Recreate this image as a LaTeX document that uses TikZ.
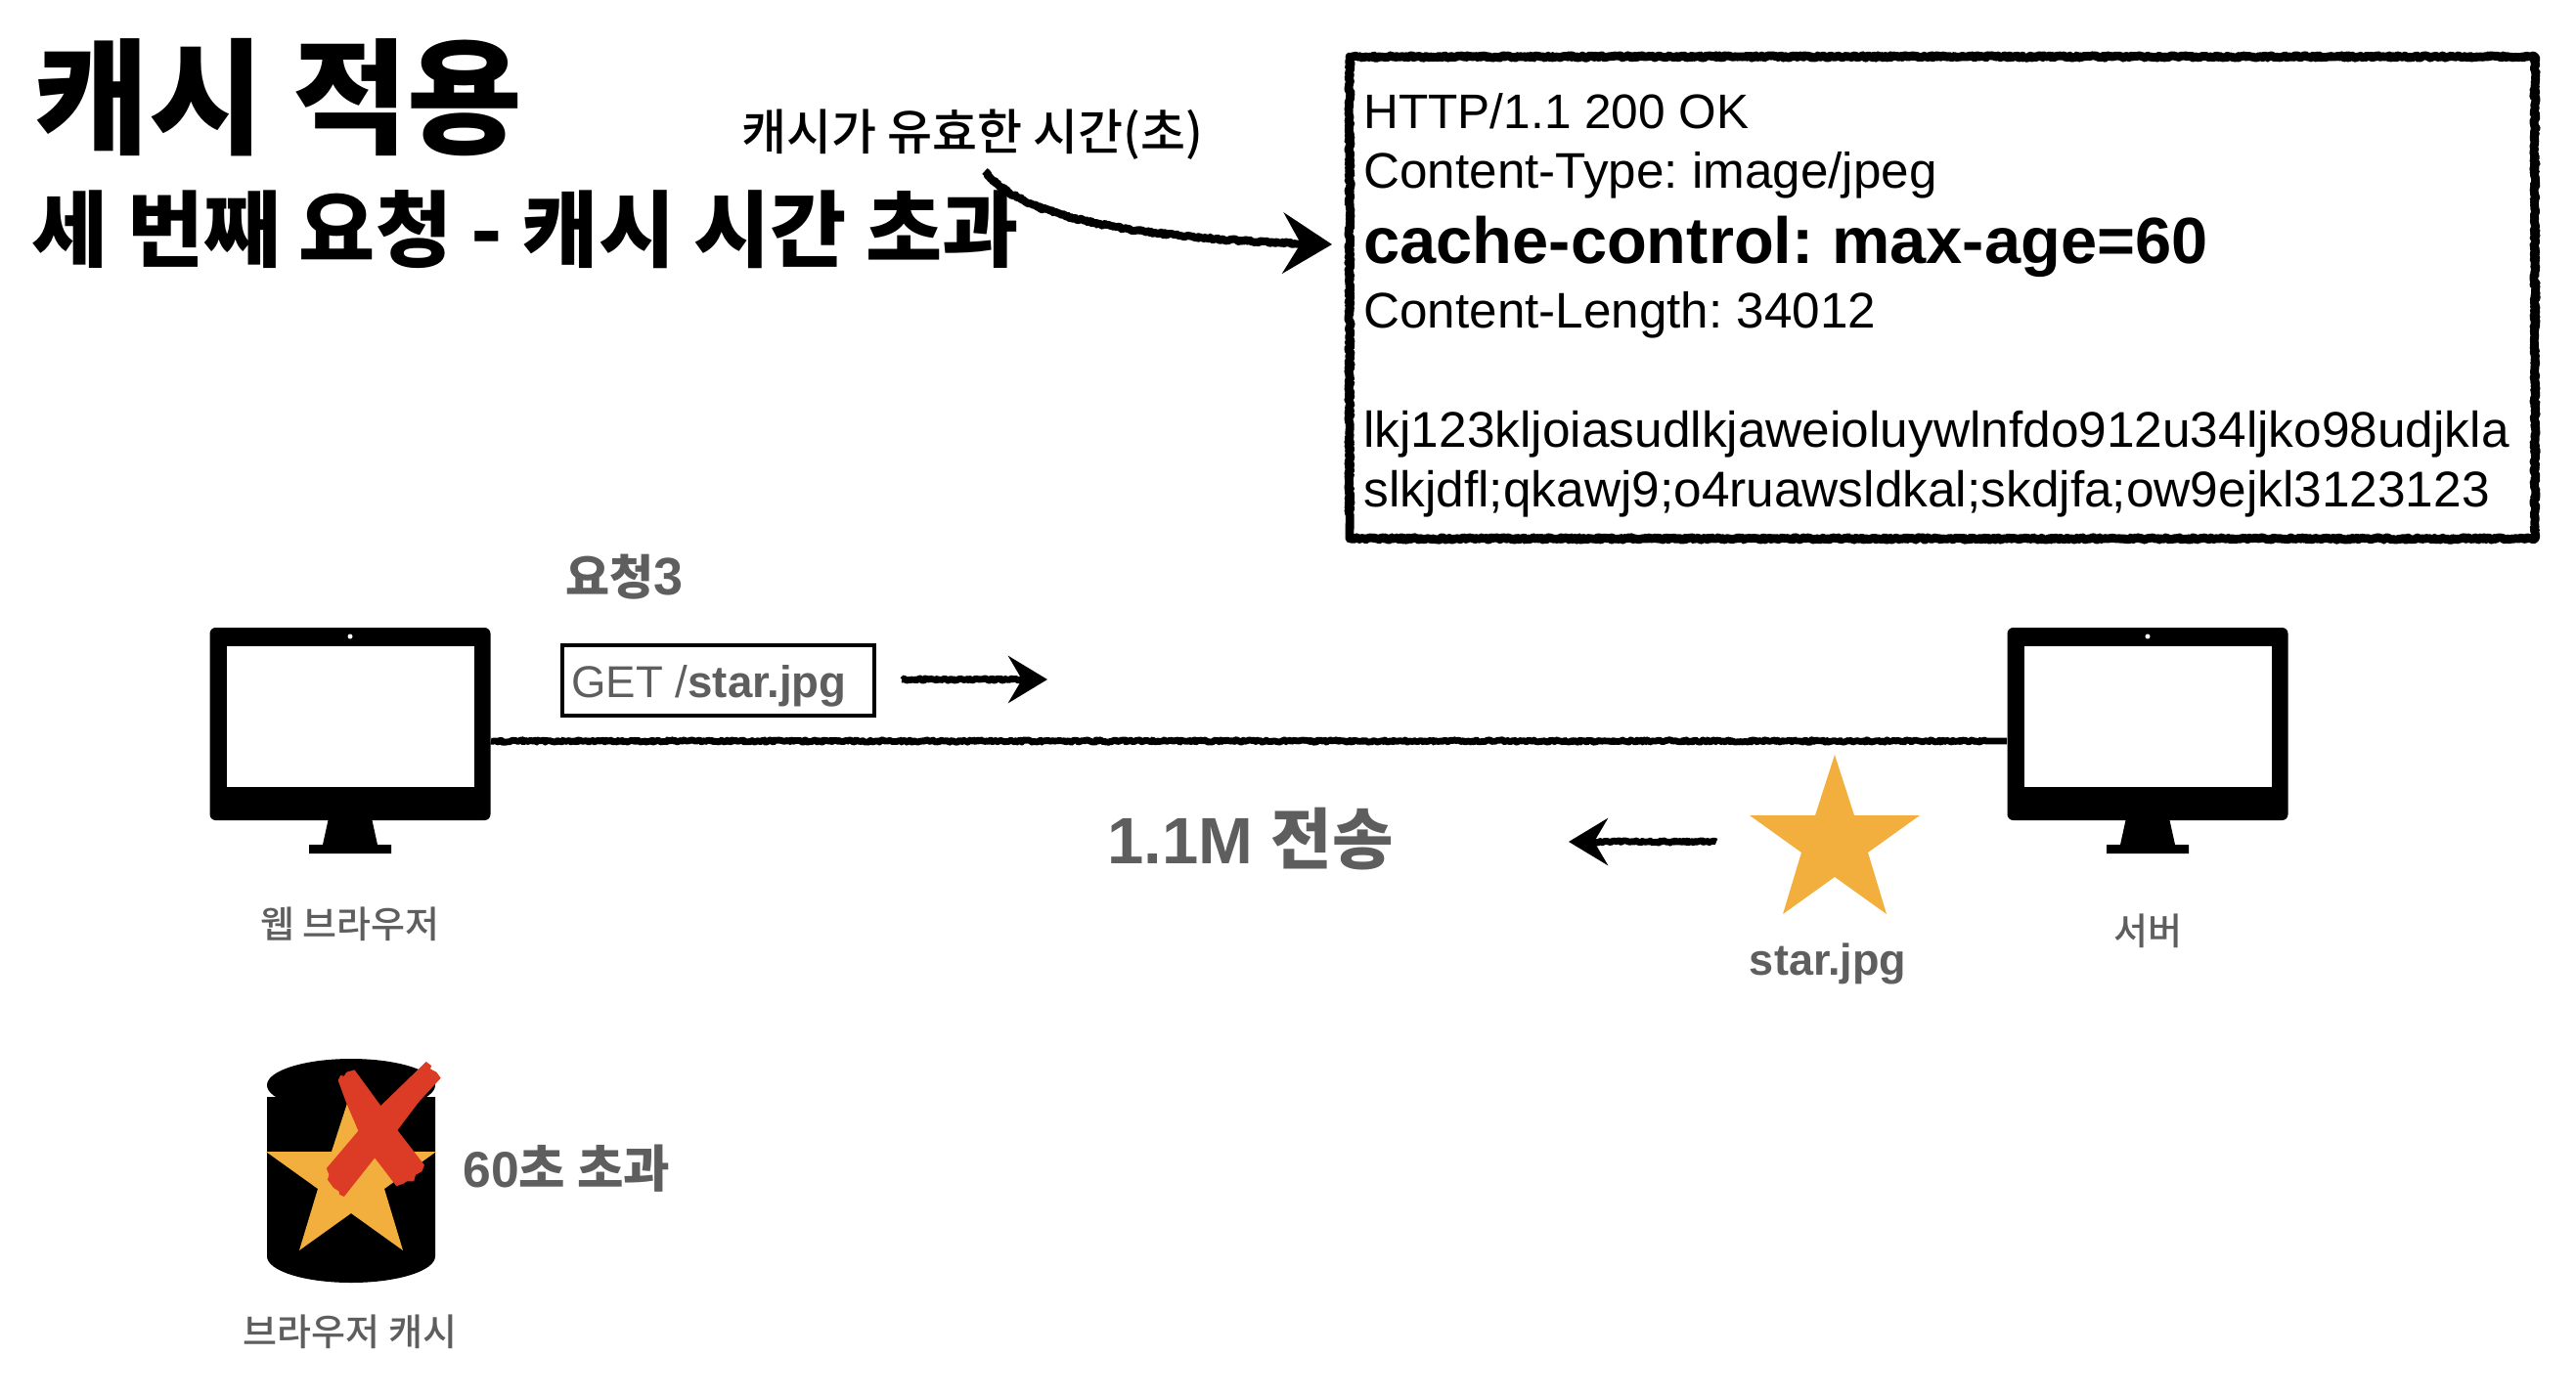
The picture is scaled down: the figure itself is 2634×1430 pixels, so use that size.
\documentclass[tikz,border=0pt]{standalone}
\usepackage{fontspec}
\setmainfont{Liberation Sans}
\newfontfamily\kofont{Noto Sans CJK KR}
\newfontfamily\komed{Noto Sans CJK KR Medium}
\usetikzlibrary{arrows.meta, decorations.pathmorphing}
\newcommand{\fsz}[1]{\fontsize{#1}{#1}\selectfont}
\definecolor{labelgray}{HTML}{5E5E5E}
\definecolor{stargold}{HTML}{F3AF3D}
\definecolor{crossred}{HTML}{DC3B26}

\begin{document}
\frenchspacing
\begin{tikzpicture}[x=0.5pt, y=-0.5pt]
    % Styles
    \tikzstyle{label} = [inner sep=0pt, anchor=base west]
    \tikzstyle{graylabel} = [label, text=labelgray]
    \tikzstyle{caption} = [graylabel, anchor=base, font=\komed\fsz{19}]
    \tikzstyle{sketch} = [draw, line join=round, decorate, decoration={random steps, segment length=0.8pt, amplitude=0.6pt, post length=11pt}]
    \tikzstyle{sketchline} = [sketch, line width=3.4pt]
    \tikzstyle{sketcharrow} = [sketchline, -{Stealth[length=20pt, width=24pt, inset=7pt]}]
    \tikzstyle{bigarrow} = [sketchline, line width=4pt, -{Stealth[length=25pt, width=31pt, inset=9pt]}]
    \tikzstyle{monitor} = [fill=black, rounded corners=3pt, minimum width=143.5pt, minimum height=98.5pt, inner sep=0pt]
    \tikzstyle{monitorscreen} = [fill=white, minimum width=126.5pt, minimum height=72pt, inner sep=0pt]
    \tikzset{goldstar/.pic={
        \fill [stargold] (0,-62) -- (20,0) -- (87,0) -- (34,38) -- (53,101) -- (0,63)
            -- (-53,101) -- (-34,38) -- (-87,0) -- (-20,0) -- cycle;
    }}
    \pgfmathsetseed{7}

    \useasboundingbox (0,0) rectangle (2634,1430);

    % Titles
    \node [label, font=\kofont\bfseries\fsz{64}] (title) at (34,147) {캐시 적용};
    \node [label, font=\kofont\bfseries\fsz{42.5}] (subtitle) at (32,266) {세 번째 요청 - 캐시 시간 초과};
    \node [label, font=\komed\fsz{25}] (ttl) at (758,153) {캐시가 유효한 시간(초)};

    % Response
    \node [sketch, line width=4.4pt, minimum width=606pt, minimum height=246.5pt, inner sep=0pt] (response) at (1986,304.5) {};
    \node [label, font=\fsz{24.8}] (status) at (1394,131) {HTTP/1.1 200 OK};
    \node [label, font=\fsz{25.6}] (ctype) at (1394,192.5) {Content-Type: image/jpeg};
    \node [label, font=\bfseries\fsz{33.4}] (cachectl) at (1394,269.5) {cache-control: max-age=60};
    \node [label, font=\fsz{25.6}] (clength) at (1394,335) {Content-Length: 34012};
    \node [label, font=\fsz{25.7}] (bodya) at (1394,457.5) {lkj123kljoiasudlkjaweioluywlnfdo912u34ljko98udjkla};
    \node [label, font=\fsz{25.7}] (bodyb) at (1394,518.5) {slkjdfl;qkawj9;o4ruawsldkal;skdjfa;ow9ejkl3123123};

    % Monitors
    \foreach \name/\cx in {browser/358, server/2196} {
        \fill (\cx-22.5,839) -- (\cx+22.5,839) -- (\cx+28,864) -- (\cx+42,864) -- (\cx+42,873)
            -- (\cx-42,873) -- (\cx-42,864) -- (\cx-28,864) -- cycle;
        \node [monitor] (\name) at (\cx,740.5) {};
        \node [monitorscreen] (\name screen) at (\cx,733) {};
        \node [fill=white, circle, inner sep=0pt, minimum size=2.5pt] (\name cam) at (\cx,651) {};
    }
    \node [caption] (browsercap) at (358,959) {웹 브라우저};
    \node [caption] (servercap) at (2196,966) {서버};

    % Request
    \node [graylabel, font=\bfseries\fsz{27}] (reqlabel) at (578,608) {{\kofont\fsz{24.5}요청}3};
    \node [draw, line width=2pt, minimum width=159.5pt, minimum height=36pt, inner sep=0pt] (reqbox) at (734.5,696) {};
    \node [graylabel, font=\fsz{22.8}] (reqtext) at (584,713) {GET /\textbf{star.jpg}};
    \coordinate (reqfrom) at (922,695);
    \coordinate (reqto) at (1071,695);

    % Transfer
    \node [graylabel, font=\bfseries\fsz{33.5}] (transfer) at (1132,883) {1.1M {\kofont\fsz{34}전송}};
    \coordinate (transfrom) at (1755,861);
    \coordinate (transto) at (1604,861);
    \pic at (1876,834) {goldstar};
    \node [graylabel, anchor=base, font=\bfseries\fsz{22.5}] (starname) at (1869,997) {star.jpg};

    % Cache
    \fill (273,1122) arc [start angle=180, end angle=360, x radius=86, y radius=19] -- (445,1285)
        arc [start angle=0, end angle=180, x radius=86, y radius=27] -- cycle;
    \fill [white] (273,1110) rectangle (445,1122);
    \fill (359,1110) ellipse [x radius=86, y radius=27];
    \node [inner sep=0pt, minimum size=0pt] (cache) at (359,1197) {};
    \pic at (359,1178) {goldstar};
    \fill [crossred] (345.7,1105) -- (348.2,1100) -- (351.8,1100.7) -- (354.3,1096.7) -- (362.5,1094.3)
        -- (389.3,1131) -- (435.7,1086) -- (441.1,1090) -- (440,1093.3) -- (446.4,1096.7) -- (450.7,1102.7)
        -- (428.6,1126.7) -- (406.4,1156) -- (433.9,1191.7) -- (431.4,1198.3) -- (425,1201.7)
        -- (423.2,1208.3) -- (416.1,1208.3) -- (412.5,1210.7) -- (405.4,1213.3) -- (383.2,1184.3)
        -- (351.8,1224) -- (347.1,1221.7) -- (346.4,1218.3) -- (341.1,1215) -- (335,1206.7)
        -- (336.4,1201.7) -- (333.9,1195) -- (366.4,1156.7) -- (353.6,1126.7) -- cycle;
    \node [graylabel, font=\bfseries\fsz{25.8}] (expired) at (473,1214) {60{\kofont 초 초과}};
    \node [caption] (cachecap) at (358,1376) {브라우저 캐시};

    % Connections
    \coordinate (ttlfrom) at (1007,175);
    \coordinate (ttlto) at (1362,250);
    \draw [bigarrow] (ttlfrom) .. controls (1040,220) and (1150,245) .. (ttlto);
    \draw [sketchline] ([yshift=-8.75pt]browser.east) -- ([yshift=-8.75pt]server.west);
    \draw [sketcharrow] (reqfrom) -- (reqto);
    \draw [sketcharrow] (transfrom) -- (transto);

\end{tikzpicture}
\end{document}
